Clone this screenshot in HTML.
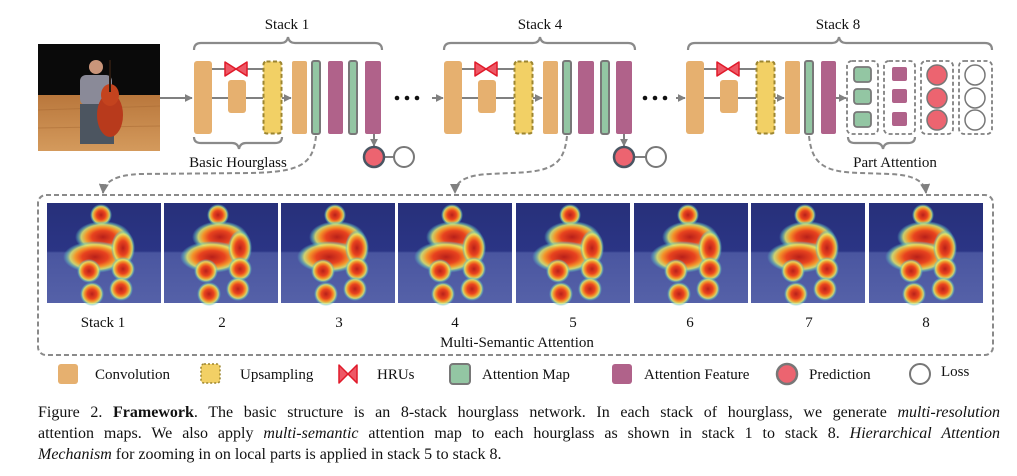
<!DOCTYPE html>
<html><head><meta charset="utf-8">
<style>
html,body{margin:0;padding:0;background:#fff;}
body{width:1017px;height:476px;position:relative;overflow:hidden;font-family:"Liberation Serif",serif;}
svg{position:absolute;left:0;top:0;}
.cap{position:absolute;left:38px;width:962px;font-size:16px;line-height:21px;color:#111;white-space:nowrap;text-align:justify;text-align-last:justify;font-family:"Liberation Serif",serif;}
</style></head><body>
<svg width="1017" height="476" viewBox="0 0 1017 476" font-family="Liberation Serif, serif">
<defs>
<radialGradient id="hot">
<stop offset="0" stop-color="#b8201a"/>
<stop offset="0.4" stop-color="#e8431f"/>
<stop offset="0.62" stop-color="#f3952a"/>
<stop offset="0.78" stop-color="#e2e86a" stop-opacity="0.85"/>
<stop offset="0.9" stop-color="#6cc6b8" stop-opacity="0.5"/>
<stop offset="1" stop-color="#5fb0c8" stop-opacity="0"/>
</radialGradient>
<linearGradient id="bg" x1="0" y1="0" x2="0" y2="1">
<stop offset="0" stop-color="#27307a"/>
<stop offset="0.48" stop-color="#2b3585"/>
<stop offset="0.5" stop-color="#4a56a0"/>
<stop offset="1" stop-color="#5561a8"/>
</linearGradient>
<linearGradient id="floor" x1="0" y1="0" x2="0" y2="1">
<stop offset="0" stop-color="#b9773c"/>
<stop offset="1" stop-color="#d49a5c"/>
</linearGradient>
<g id="hm">
<rect x="0" y="0" width="114" height="100" fill="url(#bg)"/>
<ellipse cx="54" cy="12" rx="11" ry="11" fill="url(#hot)"/>
<ellipse cx="56" cy="34" rx="28" ry="16" fill="url(#hot)"/>
<ellipse cx="48" cy="54" rx="32" ry="16" fill="url(#hot)"/>
<ellipse cx="76" cy="45" rx="12" ry="18" fill="url(#hot)"/>
<circle cx="42" cy="68" r="12" fill="url(#hot)"/>
<circle cx="76" cy="66" r="12" fill="url(#hot)"/>
<circle cx="45" cy="91" r="12" fill="url(#hot)"/>
<circle cx="74" cy="86" r="12" fill="url(#hot)"/>
</g>
<marker id="ah" viewBox="0 0 10 10" refX="9" refY="5" markerWidth="5" markerHeight="5" orient="auto"><path d="M0,0L10,5L0,10z" fill="#808080"/></marker>
<marker id="ah2" viewBox="0 0 10 10" refX="9" refY="5" markerWidth="4" markerHeight="4" orient="auto"><path d="M0,0L10,5L0,10z" fill="#808080"/></marker>
</defs>

<!-- photo -->
<rect x="38" y="44" width="122" height="107" fill="#0a0a0a"/>
<rect x="38" y="95" width="122" height="56" fill="url(#floor)"/>
<path d="M38,110 L160,106 M38,128 L160,126" stroke="#a86a34" stroke-width="1" opacity="0.5"/>
<circle cx="96" cy="67" r="7" fill="#c9957a"/>
<rect x="80" y="75" width="32" height="30" rx="6" fill="#8a8a98"/>
<rect x="80" y="104" width="34" height="40" fill="#4c5560"/>
<ellipse cx="110" cy="115" rx="13" ry="22" fill="#b83a1c"/>
<ellipse cx="110" cy="95" rx="9" ry="11" fill="#c4431e"/>
<rect x="109" y="60" width="2" height="32" fill="#2a1a10"/>

<!-- titles -->
<g font-size="15" fill="#111" text-anchor="middle">
<text x="287" y="29">Stack 1</text>
<text x="540" y="29">Stack 4</text>
<text x="838" y="29">Stack 8</text>
<text x="238" y="167">Basic Hourglass</text>
<text x="895" y="167">Part Attention</text>
</g>

<g fill="none" stroke="#8a8a8a" stroke-width="2.2">
<path d="M194,50 Q194,43 201,43 L281,43 Q287,43 288,37 Q289,43 295,43 L375,43 Q382,43 382,50"/>
<path d="M444,50 Q444,43 451,43 L533,43 Q539,43 540,37 Q541,43 547,43 L628,43 Q635,43 635,50"/>
<path d="M688,50 Q688,43 695,43 L832,43 Q838,43 839,37 Q840,43 846,43 L985,43 Q992,43 992,50"/>
<path d="M194,137 Q194,143 201,143 L232,143 Q238,143 239,149 Q240,143 246,143 L275,143 Q282,143 282,137"/>
<path d="M848,137 Q848,143 855,143 L876,143 Q882,143 883,149 Q884,143 890,143 L908,143 Q915,143 915,137"/>
</g>

<g stroke="#808080" stroke-width="2" fill="none">
<line x1="160" y1="98" x2="192" y2="98" marker-end="url(#ah2)"/>
<line x1="211" y1="69" x2="263" y2="69"/><line x1="211" y1="98" x2="263" y2="98"/>
<line x1="282" y1="98" x2="291" y2="98" marker-end="url(#ah2)"/>
<line x1="432" y1="98" x2="443" y2="98" marker-end="url(#ah2)"/>
<line x1="461" y1="69" x2="514" y2="69"/><line x1="461" y1="98" x2="514" y2="98"/>
<line x1="533" y1="98" x2="542" y2="98" marker-end="url(#ah2)"/>
<line x1="676" y1="98" x2="685" y2="98" marker-end="url(#ah2)"/>
<line x1="703" y1="69" x2="756" y2="69"/><line x1="703" y1="98" x2="756" y2="98"/>
<line x1="775" y1="98" x2="784" y2="98" marker-end="url(#ah2)"/>
<line x1="836" y1="98" x2="846" y2="98" marker-end="url(#ah2)"/>
<line x1="374" y1="134" x2="374" y2="146" marker-end="url(#ah2)"/>
<line x1="624" y1="134" x2="624" y2="146" marker-end="url(#ah2)"/>
<line x1="385" y1="157" x2="394" y2="157"/>
<line x1="635" y1="157" x2="646" y2="157"/>
</g>

<g fill="#111"><circle cx="397" cy="98" r="2.3"/><circle cx="407" cy="98" r="2.3"/><circle cx="417" cy="98" r="2.3"/>
<circle cx="645" cy="98" r="2.3"/><circle cx="655" cy="98" r="2.3"/><circle cx="665" cy="98" r="2.3"/></g>

<g>
<rect x="194" y="61" width="18" height="73" rx="3" fill="#E6B06F"/>
<rect x="228" y="80" width="18" height="33" rx="3" fill="#E6B06F"/>
<rect x="263.5" y="61.5" width="18" height="72" rx="3" fill="#F2D065" stroke="#9C8530" stroke-width="2" stroke-dasharray="4,2.5"/>
<rect x="292" y="61" width="15" height="73" rx="2" fill="#E6B06F"/>
<rect x="312" y="61" width="8" height="73" rx="2" fill="#93C6A3" stroke="#787878" stroke-width="2"/>
<rect x="328" y="61" width="15" height="73" rx="2" fill="#B0628A"/>
<rect x="349" y="61" width="8" height="73" rx="2" fill="#93C6A3" stroke="#787878" stroke-width="2"/>
<rect x="365" y="61" width="16" height="73" rx="2" fill="#B0628A"/>
<rect x="444" y="61" width="18" height="73" rx="3" fill="#E6B06F"/>
<rect x="478" y="80" width="18" height="33" rx="3" fill="#E6B06F"/>
<rect x="514.5" y="61.5" width="18" height="72" rx="3" fill="#F2D065" stroke="#9C8530" stroke-width="2" stroke-dasharray="4,2.5"/>
<rect x="543" y="61" width="15" height="73" rx="2" fill="#E6B06F"/>
<rect x="563" y="61" width="8" height="73" rx="2" fill="#93C6A3" stroke="#787878" stroke-width="2"/>
<rect x="578" y="61" width="16" height="73" rx="2" fill="#B0628A"/>
<rect x="601" y="61" width="8" height="73" rx="2" fill="#93C6A3" stroke="#787878" stroke-width="2"/>
<rect x="616" y="61" width="16" height="73" rx="2" fill="#B0628A"/>
<rect x="686" y="61" width="18" height="73" rx="3" fill="#E6B06F"/>
<rect x="720" y="80" width="18" height="33" rx="3" fill="#E6B06F"/>
<rect x="756.5" y="61.5" width="18" height="72" rx="3" fill="#F2D065" stroke="#9C8530" stroke-width="2" stroke-dasharray="4,2.5"/>
<rect x="785" y="61" width="15" height="73" rx="2" fill="#E6B06F"/>
<rect x="805" y="61" width="8" height="73" rx="2" fill="#93C6A3" stroke="#787878" stroke-width="2"/>
<rect x="821" y="61" width="15" height="73" rx="2" fill="#B0628A"/>
</g>

<g fill="#EE5866" stroke="#E01A2A" stroke-width="1.5" stroke-linejoin="round">
<path d="M225,62 L236,69 L225,76 Z M247,62 L236,69 L247,76 Z"/>
<path d="M475,62 L486,69 L475,76 Z M497,62 L486,69 L497,76 Z"/>
<path d="M717,62 L728,69 L717,76 Z M739,62 L728,69 L739,76 Z"/>
</g>

<circle cx="374" cy="157" r="10" fill="#EC6470" stroke="#4a5562" stroke-width="2.5"/>
<circle cx="404" cy="157" r="10" fill="#fff" stroke="#787878" stroke-width="2"/>
<circle cx="624" cy="157" r="10" fill="#EC6470" stroke="#4a5562" stroke-width="2.5"/>
<circle cx="656" cy="157" r="10" fill="#fff" stroke="#787878" stroke-width="2"/>

<g fill="none" stroke="#808080" stroke-width="1.8" stroke-dasharray="4,2.5">
<rect x="847" y="61" width="31" height="73" rx="5"/>
<rect x="884" y="61" width="31" height="73" rx="5"/>
<rect x="921" y="61" width="32" height="73" rx="5"/>
<rect x="959" y="61" width="33" height="73" rx="5"/>
</g>
<g fill="#93C6A3" stroke="#787878" stroke-width="1.8">
<rect x="854" y="67" width="17" height="15" rx="3"/>
<rect x="854" y="89" width="17" height="15" rx="3"/>
<rect x="854" y="112" width="17" height="15" rx="3"/>
</g>
<g fill="#B0628A">
<rect x="892" y="67" width="15" height="14" rx="2"/>
<rect x="892" y="89" width="15" height="14" rx="2"/>
<rect x="892" y="112" width="15" height="14" rx="2"/>
</g>
<g fill="#EC6470" stroke="#777" stroke-width="1.5">
<circle cx="937" cy="75" r="10"/><circle cx="937" cy="98" r="10"/><circle cx="937" cy="120" r="10"/>
</g>
<g fill="#fff" stroke="#777" stroke-width="1.5">
<circle cx="975" cy="75" r="10"/><circle cx="975" cy="98" r="10"/><circle cx="975" cy="120" r="10"/>
</g>

<g fill="none" stroke="#8a8a8a" stroke-width="2" stroke-dasharray="5,3">
<path d="M316,136 C313,165 300,172 250,173 L140,174 C115,175 104,182 103,193" marker-end="url(#ah)"/>
<path d="M567,136 C564,165 552,172 510,173 L490,174 C465,175 455,182 455,193" marker-end="url(#ah)"/>
<path d="M809,136 C812,165 825,172 860,173 L890,174 C915,175 925,182 926,193" marker-end="url(#ah)"/>
<rect x="38" y="195" width="955" height="160" rx="8"/>
</g>

<use href="#hm" x="47" y="203"/>
<use href="#hm" x="164" y="203"/>
<use href="#hm" x="281" y="203"/>
<use href="#hm" x="398" y="203"/>
<use href="#hm" x="516" y="203"/>
<use href="#hm" x="634" y="203"/>
<use href="#hm" x="751" y="203"/>
<use href="#hm" x="869" y="203"/>

<g font-size="15" fill="#111" text-anchor="middle">
<text x="103" y="327">Stack 1</text>
<text x="222" y="327">2</text>
<text x="339" y="327">3</text>
<text x="455" y="327">4</text>
<text x="573" y="327">5</text>
<text x="690" y="327">6</text>
<text x="809" y="327">7</text>
<text x="926" y="327">8</text>
<text x="517" y="347">Multi-Semantic Attention</text>
</g>

<rect x="58" y="364" width="20" height="20" rx="3" fill="#E6B06F"/>
<rect x="201" y="364" width="19" height="19" rx="3" fill="#F2D065" stroke="#9C8530" stroke-width="1.5" stroke-dasharray="2,2"/>
<path d="M339,365 L348,374 L339,383 Z M357,365 L348,374 L357,383 Z" fill="#EE5866" stroke="#E01A2A" stroke-width="1.5" stroke-linejoin="round"/>
<rect x="450" y="364" width="20" height="20" rx="3" fill="#93C6A3" stroke="#787878" stroke-width="2"/>
<rect x="612" y="364" width="20" height="20" rx="3" fill="#B0628A"/>
<circle cx="787" cy="374" r="10" fill="#EC6470" stroke="#777" stroke-width="2.5"/>
<circle cx="920" cy="374" r="10" fill="#fff" stroke="#777" stroke-width="2"/>
<g font-size="15" fill="#111">
<text x="95" y="379">Convolution</text>
<text x="240" y="379">Upsampling</text>
<text x="377" y="379">HRUs</text>
<text x="482" y="379">Attention Map</text>
<text x="644" y="379">Attention Feature</text>
<text x="809" y="379">Prediction</text>
<text x="941" y="376">Loss</text>
</g>
</svg>
<div class="cap" style="top:402px">Figure 2. <b>Framework</b>. The basic structure is an 8-stack hourglass network. In each stack of hourglass, we generate <i>multi-resolution</i></div>
<div class="cap" style="top:423px">attention maps. We also apply <i>multi-semantic</i> attention map to each hourglass as shown in stack 1 to stack 8. <i>Hierarchical Attention</i></div>
<div class="cap" style="top:444px;text-align-last:left;text-align:left">
<i>Mechanism</i> for zooming in on local parts is applied in stack 5 to stack 8.</div>
</body></html>
